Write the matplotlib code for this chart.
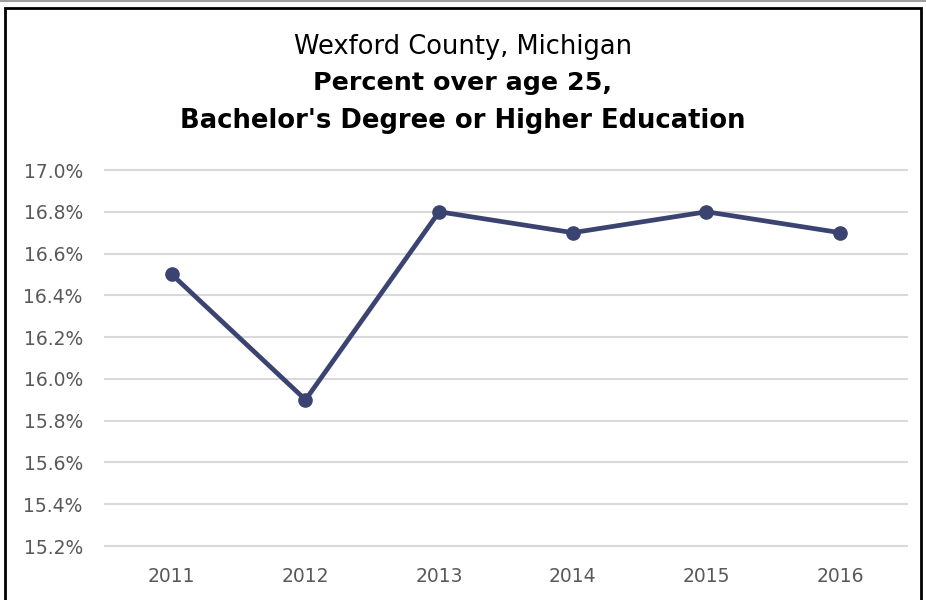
import matplotlib
matplotlib.use("Agg")
import matplotlib.pyplot as plt
from matplotlib.patches import Rectangle
from matplotlib.lines import Line2D
from matplotlib.ticker import FuncFormatter

years = ["2011", "2012", "2013", "2014", "2015", "2016"]
pct = [16.5, 15.9, 16.8, 16.7, 16.8, 16.7]
yticks = [15.2, 15.4, 15.6, 15.8, 16.0, 16.2, 16.4, 16.6, 16.8, 17.0]

plt.rcParams['font.family'] = ['DejaVu Sans']

fig = plt.figure(figsize=(9.26, 6), dpi=100)
ax = fig.add_axes([105/926, 1-546/600, (907-105)/926, (546-170)/600])

x = list(range(len(years)))
ax.plot(x, pct, color="#3B4470", lw=3.4, marker="o", ms=9.5, solid_capstyle="round", zorder=3)

ax.set_xlim(-0.5, len(years) - 0.5)
ax.set_ylim(15.2, 17.0)
ax.set_yticks(yticks)
ax.yaxis.set_major_formatter(FuncFormatter(lambda v, p: "{:.1f}%".format(v)))
ax.set_xticks(x)
ax.set_xticklabels(years)
ax.tick_params(length=0, labelsize=13.5, colors="#595959")
ax.tick_params(axis="x", pad=15)
ax.tick_params(axis="y", pad=16)
ax.grid(axis="y", color="#D9D9D9", lw=1.5)
for gl in ax.get_ygridlines():
    gl.set_clip_on(False)
ax.set_axisbelow(True)
for s in ax.spines.values():
    s.set_visible(False)

# titles
fig.text(0.5, 1-47/600, "Wexford County, Michigan", ha="center", va="center", fontsize=18.5, color="black")
fig.text(0.5, 1-83/600, "Percent over age 25,", ha="center", va="center", fontsize=18.3, fontweight="bold")
fig.text(0.5, 1-121/600, "Bachelor's Degree or Higher Education", ha="center", va="center", fontsize=18.6, fontweight="bold")

# chart border
fig.patches.append(Rectangle((5/926, -0.05), (921-5)/926, 1.05 - 8/600, transform=fig.transFigure,
                             fill=False, edgecolor="black", lw=2))
fig.lines.append(Line2D([0, 1], [1-1/600, 1-1/600], transform=fig.transFigure, color="#A0A0A0", lw=1.5))

fig.savefig("out.png", dpi=100)
